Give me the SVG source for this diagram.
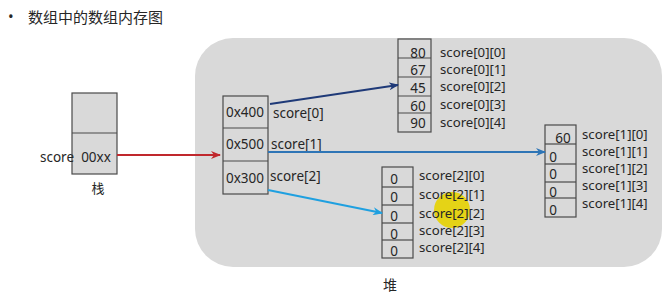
<svg xmlns="http://www.w3.org/2000/svg" width="669" height="299" viewBox="0 0 669 299">
<style>
text{font-family:"Noto Sans","Open Sans","Noto Sans CJK SC",sans-serif;font-size:13.5px;fill:#262626}
.cjk{font-family:"Noto Sans CJK SC","Noto Sans",sans-serif}
.lbl{font-size:13.2px}
.box{fill:#d9d9d9;stroke:#4a4a4a;stroke-width:1.2}
.ln{stroke:#4a4a4a;stroke-width:1.2}
.mid{text-anchor:middle}
.c{fill:none;stroke-width:2}
</style>
<defs>
<marker id="aR" markerWidth="10" markerHeight="8" refX="9" refY="4" orient="auto" markerUnits="userSpaceOnUse"><path d="M0,0 L10,4 L0,8 L3,4 Z" fill="#c0282d"/></marker>
<marker id="aN" markerWidth="10" markerHeight="8" refX="9" refY="4" orient="auto" markerUnits="userSpaceOnUse"><path d="M0,0 L10,4 L0,8 L3,4 Z" fill="#1f3a78"/></marker>
<marker id="aB" markerWidth="10" markerHeight="8" refX="9" refY="4" orient="auto" markerUnits="userSpaceOnUse"><path d="M0,0 L10,4 L0,8 L3,4 Z" fill="#2e75b6"/></marker>
<marker id="aL" markerWidth="10" markerHeight="8" refX="9" refY="4" orient="auto" markerUnits="userSpaceOnUse"><path d="M0,0 L10,4 L0,8 L3,4 Z" fill="#1fa0e0"/></marker>
</defs>
<rect width="669" height="299" fill="#ffffff"/>
<g id="title">
<text x="8" y="22" style="font-size:15px">•</text>
<text x="28" y="23" class="cjk" style="font-size:15px">数组中的数组内存图</text>
</g>
<g id="heap">
<rect x="195" y="38" width="467" height="229" rx="38" ry="38" fill="#d9d9d9"/>
<text x="390" y="290" class="cjk mid" style="font-size:14px">堆</text>
</g>
<g id="stack">
<rect x="72" y="93" width="45" height="81" class="box"/>
<line x1="72" y1="133" x2="117" y2="133" class="ln"/>
<text x="40" y="162">score</text>
<text x="96" y="162" class="mid">00xx</text>
<text x="98" y="193" class="cjk mid" style="font-size:13px">栈</text>
</g>
<g id="score">
<rect x="223" y="96" width="45" height="98" class="box"/>
<line x1="223" y1="128" x2="268" y2="128" class="ln"/>
<line x1="223" y1="161" x2="268" y2="161" class="ln"/>
<text x="245" y="117" class="mid">0x400</text>
<text x="245" y="149" class="mid">0x500</text>
<text x="245" y="183" class="mid">0x300</text>
<text x="273" y="118">score[0]</text>
<text x="271" y="149">score[1]</text>
<text x="270" y="181">score[2]</text>
</g>
<g id="row0">
<rect x="398" y="39" width="33" height="93" class="box"/>
<line x1="398" y1="58" x2="431" y2="58" class="ln"/>
<line x1="398" y1="77" x2="431" y2="77" class="ln"/>
<line x1="398" y1="96" x2="431" y2="96" class="ln"/>
<line x1="398" y1="113" x2="431" y2="113" class="ln"/>
<text x="418" y="58" class="mid">80</text>
<text x="418" y="75" class="mid">67</text>
<text x="418" y="93" class="mid">45</text>
<text x="418" y="111" class="mid">60</text>
<text x="418" y="128" class="mid">90</text>
<text x="440" y="57" class="lbl">score[0][0]</text>
<text x="440" y="74" class="lbl">score[0][1]</text>
<text x="440" y="91" class="lbl">score[0][2]</text>
<text x="440" y="109" class="lbl">score[0][3]</text>
<text x="440" y="127" class="lbl">score[0][4]</text>
</g>
<g id="row1">
<rect x="545" y="125" width="31" height="92" class="box"/>
<line x1="545" y1="144" x2="576" y2="144" class="ln"/>
<line x1="545" y1="164" x2="576" y2="164" class="ln"/>
<line x1="545" y1="182" x2="576" y2="182" class="ln"/>
<line x1="545" y1="198" x2="576" y2="198" class="ln"/>
<text x="563" y="143" class="mid">60</text>
<text x="553" y="162" class="mid">0</text>
<text x="553" y="179" class="mid">0</text>
<text x="553" y="197" class="mid">0</text>
<text x="553" y="215" class="mid">0</text>
<text x="582" y="139" class="lbl">score[1][0]</text>
<text x="582" y="156" class="lbl">score[1][1]</text>
<text x="582" y="173" class="lbl">score[1][2]</text>
<text x="582" y="190" class="lbl">score[1][3]</text>
<text x="582" y="208" class="lbl">score[1][4]</text>
</g>
<g id="row2">
<rect x="382" y="167" width="31" height="91" class="box"/>
<line x1="382" y1="187" x2="413" y2="187" class="ln"/>
<line x1="382" y1="205" x2="413" y2="205" class="ln"/>
<line x1="382" y1="223" x2="413" y2="223" class="ln"/>
<line x1="382" y1="240" x2="413" y2="240" class="ln"/>
<text x="394" y="184" class="mid">0</text>
<text x="394" y="202" class="mid">0</text>
<text x="394" y="221" class="mid">0</text>
<text x="394" y="239" class="mid">0</text>
<text x="394" y="256" class="mid">0</text>
<circle cx="452" cy="210" r="18" fill="#e6d200" opacity="0.9"/>
<text x="419" y="180" class="lbl">score[2][0]</text>
<text x="419" y="199" class="lbl">score[2][1]</text>
<text x="419" y="218" class="lbl">score[2][2]</text>
<text x="419" y="235" class="lbl">score[2][3]</text>
<text x="419" y="252" class="lbl">score[2][4]</text>
</g>
<g id="connectors">
<line x1="117" y1="155" x2="220" y2="155" stroke="#c0282d" class="c" marker-end="url(#aR)"/>
<line x1="270" y1="104" x2="398" y2="85" stroke="#1f3a78" class="c" marker-end="url(#aN)"/>
<line x1="268" y1="152" x2="545" y2="152" stroke="#2e75b6" class="c" marker-end="url(#aB)"/>
<line x1="268" y1="190" x2="382" y2="213" stroke="#1fa0e0" class="c" marker-end="url(#aL)"/>
</g>
</svg>
